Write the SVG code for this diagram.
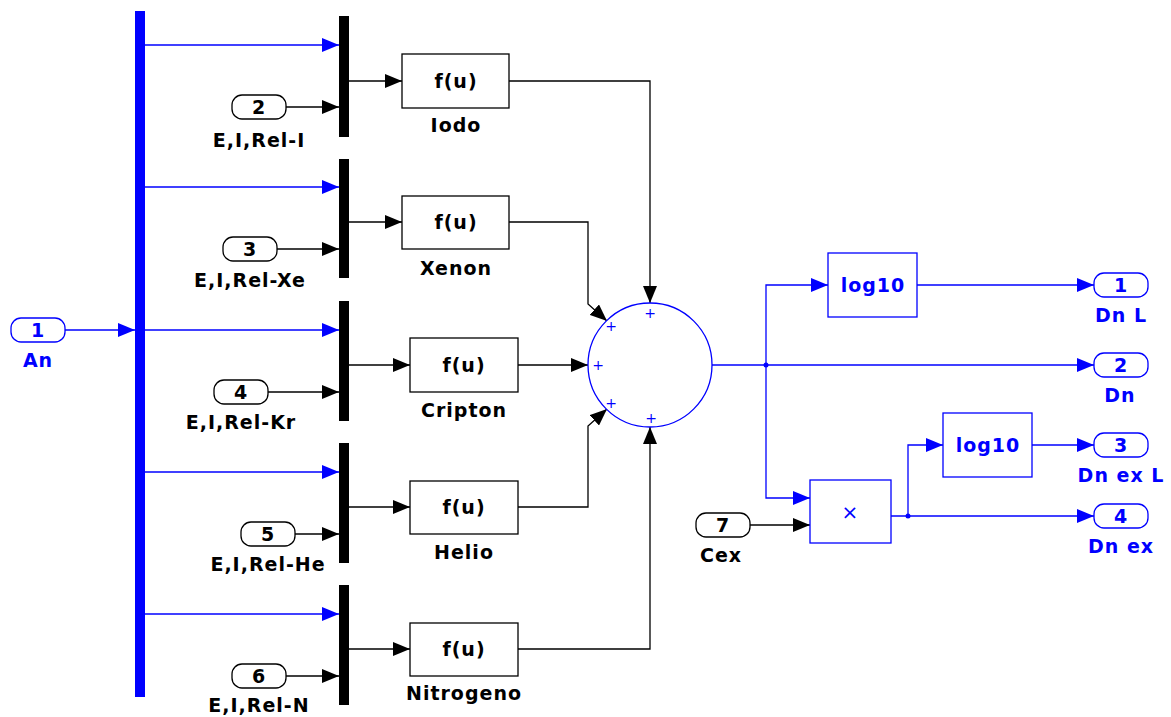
<svg xmlns="http://www.w3.org/2000/svg" width="1171" height="717" viewBox="0 0 1171 717">
<defs>
<style>
.t{font-family:"DejaVu Sans",Verdana,sans-serif;font-weight:bold;font-size:19px;letter-spacing:1px;text-anchor:middle}
.k{fill:#000}
.b{fill:#0000ff}
.lk{fill:none;stroke:#000;stroke-width:1.3}
.lb{fill:none;stroke:#0000ff;stroke-width:1.3}
.blk{fill:#fff;stroke:#000;stroke-width:1.3}
.bblk{fill:#fff;stroke:#0000ff;stroke-width:1.3}
.pl{font-family:"DejaVu Sans",sans-serif;font-size:14px;fill:#0000ff;text-anchor:middle}
</style>
<marker id="ak" viewBox="0 0 17 14" refX="17" refY="7" markerWidth="17" markerHeight="14" markerUnits="userSpaceOnUse" orient="auto"><path d="M0,0 L17,7 L0,14 z" fill="#000"/></marker>
<marker id="ab" viewBox="0 0 17 14" refX="17" refY="7" markerWidth="17" markerHeight="14" markerUnits="userSpaceOnUse" orient="auto"><path d="M0,0 L17,7 L0,14 z" fill="#0000ff"/></marker>
</defs>
<rect width="1171" height="717" fill="#fff"/>

<g id="connectors">
<path class="lb" d="M65,330 H135" marker-end="url(#ab)"/>
<path class="lb" d="M145,45 H339" marker-end="url(#ab)"/>
<path class="lb" d="M145,187 H339" marker-end="url(#ab)"/>
<path class="lb" d="M145,330 H339" marker-end="url(#ab)"/>
<path class="lb" d="M145,472 H339" marker-end="url(#ab)"/>
<path class="lb" d="M145,614 H339" marker-end="url(#ab)"/>
<path class="lk" d="M286,107 H339" marker-end="url(#ak)"/>
<path class="lk" d="M277,249 H339" marker-end="url(#ak)"/>
<path class="lk" d="M268,392 H339" marker-end="url(#ak)"/>
<path class="lk" d="M295,534 H339" marker-end="url(#ak)"/>
<path class="lk" d="M286,676 H339" marker-end="url(#ak)"/>
<path class="lk" d="M349,81 H402" marker-end="url(#ak)"/>
<path class="lk" d="M349,222 H402" marker-end="url(#ak)"/>
<path class="lk" d="M349,365 H410" marker-end="url(#ak)"/>
<path class="lk" d="M349,507 H410" marker-end="url(#ak)"/>
<path class="lk" d="M349,649 H410" marker-end="url(#ak)"/>
<path class="lk" d="M509,81 H650 V303" marker-end="url(#ak)"/>
<path class="lk" d="M509,222 H588 V304 L607,321" marker-end="url(#ak)"/>
<path class="lk" d="M518,365 H588" marker-end="url(#ak)"/>
<path class="lk" d="M518,507 H588 V426 L607,409" marker-end="url(#ak)"/>
<path class="lk" d="M518,649 H650 V427" marker-end="url(#ak)"/>
<path class="lb" d="M712,365 H1094" marker-end="url(#ab)"/>
<path class="lb" d="M766,365 V285 H828" marker-end="url(#ab)"/>
<path class="lb" d="M917,285 H1094" marker-end="url(#ab)"/>
<path class="lb" d="M766,365 V498 H810" marker-end="url(#ab)"/>
<path class="lk" d="M750,525 H810" marker-end="url(#ak)"/>
<path class="lb" d="M891,516 H1094" marker-end="url(#ab)"/>
<path class="lb" d="M908,516 V445 H943" marker-end="url(#ab)"/>
<path class="lb" d="M1032,445 H1094" marker-end="url(#ab)"/>
<circle cx="766" cy="365" r="2.5" class="b"/>
<circle cx="908" cy="516" r="2.5" class="b"/>
</g>

<g id="bus"><rect x="135" y="11" width="10" height="686" class="b"/></g>

<g id="in1"><rect x="11" y="318" width="54" height="24" rx="10" class="bblk"/><text class="t b" x="38" y="337">1</text><text class="t b" x="38" y="367">An</text></g>
<g id="in2"><rect x="232" y="95" width="54" height="24" rx="10" class="blk"/><text class="t k" x="259" y="114">2</text><text class="t k" x="259" y="147">E,I,Rel-I</text></g>
<g id="in3"><rect x="223" y="237" width="54" height="24" rx="10" class="blk"/><text class="t k" x="250" y="256">3</text><text class="t k" x="250" y="287">E,I,Rel-Xe</text></g>
<g id="in4"><rect x="214" y="380" width="54" height="24" rx="10" class="blk"/><text class="t k" x="241" y="399">4</text><text class="t k" x="241" y="429">E,I,Rel-Kr</text></g>
<g id="in5"><rect x="241" y="522" width="54" height="24" rx="10" class="blk"/><text class="t k" x="268" y="541">5</text><text class="t k" x="268" y="571">E,I,Rel-He</text></g>
<g id="in6"><rect x="232" y="664" width="54" height="24" rx="10" class="blk"/><text class="t k" x="259" y="683">6</text><text class="t k" x="259" y="712">E,I,Rel-N</text></g>

<g id="mux1"><rect x="339" y="16" width="10" height="121" class="k"/></g>
<g id="mux2"><rect x="339" y="159" width="10" height="119" class="k"/></g>
<g id="mux3"><rect x="339" y="301" width="10" height="120" class="k"/></g>
<g id="mux4"><rect x="339" y="443" width="10" height="120" class="k"/></g>
<g id="mux5"><rect x="339" y="585" width="10" height="120" class="k"/></g>

<g id="iodo"><rect x="402" y="54" width="107" height="54" class="blk"/><text class="t k" x="456" y="88">f(u)</text><text class="t k" x="456" y="132">Iodo</text></g>
<g id="xenon"><rect x="402" y="196" width="107" height="53" class="blk"/><text class="t k" x="456" y="229">f(u)</text><text class="t k" x="456" y="275">Xenon</text></g>
<g id="cripton"><rect x="410" y="338" width="108" height="54" class="blk"/><text class="t k" x="464" y="372">f(u)</text><text class="t k" x="464" y="417">Cripton</text></g>
<g id="helio"><rect x="410" y="481" width="108" height="53" class="blk"/><text class="t k" x="464" y="514">f(u)</text><text class="t k" x="464" y="559">Helio</text></g>
<g id="nitrogeno"><rect x="410" y="623" width="108" height="53" class="blk"/><text class="t k" x="464" y="656">f(u)</text><text class="t k" x="464" y="700">Nitrogeno</text></g>

<g id="sum"><circle cx="650" cy="365" r="62" class="bblk"/>
<text class="pl" x="650" y="318">+</text><text class="pl" x="611" y="331">+</text><text class="pl" x="598" y="370">+</text><text class="pl" x="611" y="408">+</text><text class="pl" x="651" y="423">+</text></g>

<g id="log1"><rect x="828" y="253" width="89" height="64" class="bblk"/><text class="t b" x="873" y="292">log10</text></g>
<g id="log2"><rect x="943" y="413" width="89" height="64" class="bblk"/><text class="t b" x="988" y="452">log10</text></g>
<g id="prod"><rect x="810" y="480" width="81" height="63" class="bblk"/><text x="850" y="519" style="font-family:'DejaVu Sans',sans-serif;font-size:20px;fill:#0000ff;text-anchor:middle">×</text></g>
<g id="in7"><rect x="696" y="513" width="54" height="24" rx="10" class="blk"/><text class="t k" x="723" y="532">7</text><text class="t k" x="721" y="562">Cex</text></g>

<g id="out1"><rect x="1094" y="273" width="54" height="24" rx="10" class="bblk"/><text class="t b" x="1121" y="292">1</text><text class="t b" x="1121" y="322">Dn L</text></g>
<g id="out2"><rect x="1094" y="353" width="54" height="24" rx="10" class="bblk"/><text class="t b" x="1121" y="372">2</text><text class="t b" x="1120" y="402">Dn</text></g>
<g id="out3"><rect x="1094" y="433" width="54" height="24" rx="10" class="bblk"/><text class="t b" x="1121" y="452">3</text><text class="t b" x="1121" y="482">Dn ex L</text></g>
<g id="out4"><rect x="1094" y="504" width="54" height="24" rx="10" class="bblk"/><text class="t b" x="1121" y="523">4</text><text class="t b" x="1121" y="553">Dn ex</text></g>
</svg>
